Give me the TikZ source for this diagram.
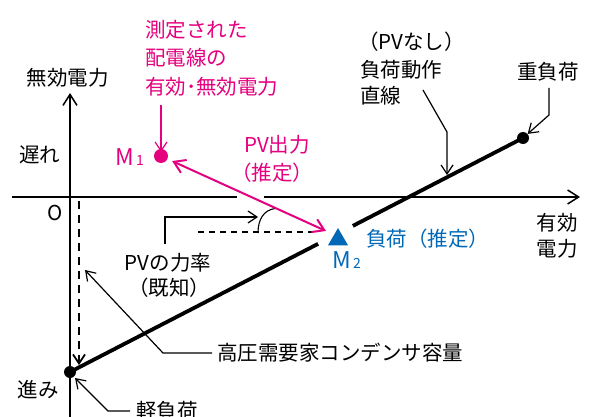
\documentclass[tikz,border=0pt]{standalone}
\usepackage{fontspec}
\setmainfont{Noto Sans CJK JP}
\usetikzlibrary{arrows.meta,shapes.geometric}
\definecolor{pinkc}{HTML}{E4007F}
\definecolor{bluec}{HTML}{0068B7}
\begin{document}
\begin{tikzpicture}[x=1pt,y=-1pt,
  txt/.style={font=\fontsize{20.5}{24}\selectfont, inner sep=0pt},
  mtxt/.style={font=\fontsize{23}{24}\selectfont, inner sep=0pt},
  axline/.style={line width=1.5pt},
  axtip/.style={-{Straight Barb[length=11pt,width=14pt,line width=1.5pt]}},
  lead/.style={line width=1.2pt, -{Straight Barb[length=9pt,width=12pt,line width=1.2pt]}},
  dashvert/.style={line width=2.6pt, dash pattern=on 8pt off 6pt, -{Straight Barb[length=9pt,width=12pt,line width=1.8pt]}},
  dashhor/.style={line width=1.2pt, dash pattern=on 6pt off 5pt},
  pinkarrow/.style={pinkc, line width=2pt, {Straight Barb[length=11pt,width=14pt,line width=2pt]}-{Straight Barb[length=11pt,width=14pt,line width=2pt]}},
  dot/.style={circle, fill, inner sep=0pt, minimum size=#1},
]
\useasboundingbox (0,0) rectangle (589,417);

% axes
\coordinate (vb) at (70,417);
\coordinate (vt) at (70,93);
\coordinate (hl) at (12,197);
\coordinate (hg1) at (237,197);
\coordinate (hg2) at (264,197);
\coordinate (hr) at (580,197);
\draw[axline, axtip] (vb) -- (vt);
\draw[axline] (hl) -- (hg1);
\draw[axline, axtip] (hg2) -- (hr);

% dashed vertical (capacitor)
\coordinate (dv1) at (79,201);
\coordinate (dv2) at (79,365);
\draw[dashvert] (dv1) -- (dv2);

% load line
\node[dot=12pt] (ldot) at (70,372) {};
\node[dot=12pt] (hdot) at (523,138) {};
\draw[line width=3.8pt] (ldot.center) -- (hdot.center);
\fill[white] (335.5,234.9) circle (19.5pt);

% dashed horizontal and angle
\coordinate (dh1) at (198,232);
\coordinate (dh2) at (312,232);
\draw[dashhor] (dh1) -- (dh2);
\coordinate (ag1) at (258,233);
\coordinate (ag2) at (275,208.5);
\draw[line width=1.1pt] (ag1) .. controls (258,219) and (264,210) .. (ag2);

% M1, pink arrow
\node[dot=14pt, pinkc] (m1) at (161,156) {};
\coordinate (vx) at (326,231);
\draw[pinkarrow, shorten <=5pt] (m1) -- (vx);

% M2
\node[regular polygon, regular polygon sides=3, fill=bluec, inner sep=0pt, minimum size=23pt] (m2) at (338,239.5) {};

% texts
\node[txt] (qaxis) at (68,78) {無効電力};
\node[txt] (lag) at (40,155) {遅れ};
\node[txt] (lead) at (38,390) {進み};
\node[txt] (orig) at (55,213) {O};
\node[txt, anchor=center] (paxis1) at (557,223) {有効};
\node[txt, anchor=center] (paxis2) at (557,249) {電力};

\node[txt, pinkc, anchor=west] (pk1) at (145,30) {測定された};
\node[txt, pinkc, anchor=west] (pk2) at (145,58) {配電線の};
\node[txt, pinkc, anchor=west] (pk3) at (145,87) {有効･無効電力};
\coordinate (pka) at (161,105);
\coordinate (pkb) at (161,152);
\draw[lead, pinkc] (pka) -- (pkb);
\node[mtxt, pinkc, anchor=base west] (m1l) at (115,165) {M\fontsize{14}{14}\selectfont\,1};

\node[txt, pinkc] (pv1) at (277,145) {PV出力};
\node[txt, pinkc] (pv2) at (272,173) {（推定）};

\node[mtxt, bluec, anchor=base west] (m2l) at (332,268) {M\fontsize{14}{14}\selectfont\,2};
\node[txt, bluec, anchor=west] (est) at (366,239) {負荷（推定）};

\node[txt, anchor=west] (nl1) at (358,42) {（PVなし）};
\node[txt, anchor=west] (nl2) at (360,70) {負荷動作};
\node[txt, anchor=west] (nl3) at (360,96) {直線};
\coordinate (nla) at (423,90);
\coordinate (nlb) at (447,132);
\coordinate (nlc) at (447,175);
\draw[lead] (nla) -- (nlb) -- (nlc);

\node[txt] (heavy) at (548,72) {重負荷};
\coordinate (hva) at (549,88);
\coordinate (hvb) at (549,115);
\draw[lead] (hva) -- (hvb) -- (hdot);

\node[txt] (pf1) at (168,263) {PVの力率};
\node[txt] (pf2) at (169,288) {（既知）};
\coordinate (pfa) at (165,244);
\coordinate (pfb) at (165,217);
\coordinate (pfc) at (258,217);
\draw[lead] (pfa) -- (pfb) -- (pfc);

\node[txt, anchor=west] (cap) at (217,353) {高圧需要家コンデンサ容量};
\coordinate (cpa) at (212,353);
\coordinate (cpb) at (163,353);
\coordinate (cpc) at (85,270);
\draw[lead] (cpa) -- (cpb) -- (cpc);

\node[txt, anchor=west] (light) at (136,411) {軽負荷};
\coordinate (lta) at (130,411);
\coordinate (ltb) at (108,411);
\coordinate (ltc) at (75,378);
\draw[lead] (lta) -- (ltb) -- (ltc);
\end{tikzpicture}
\end{document}
